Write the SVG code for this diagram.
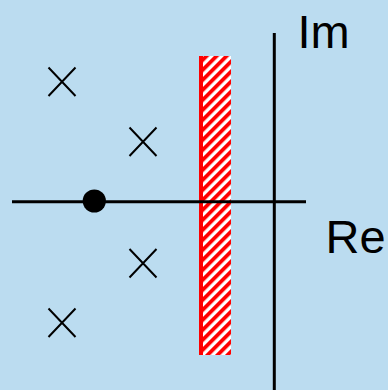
<svg xmlns="http://www.w3.org/2000/svg" width="388" height="390" viewBox="0 0 388 390">
  <defs>
    <pattern id="hatch" patternUnits="userSpaceOnUse" width="7.07" height="7.07" patternTransform="rotate(45)">
      <rect x="0" y="0" width="7.07" height="7.07" fill="#ffffff"/>
      <rect x="0" y="0" width="3.8" height="7.07" fill="#ff0000"/>
    </pattern>
    <style>
      .axis { stroke: #000; stroke-width: 3; fill: none; }
      .cross { stroke: #000; stroke-width: 2; fill: none; }
      .lbl { font-family: "Liberation Sans", Arial, sans-serif; font-size: 47px; fill: #000; }
    </style>
  </defs>
  <rect x="0" y="0" width="388" height="390" fill="#bbdcf0"/>
  <text class="lbl" x="139" y="-13">y</text>
  <g id="stability-region">
    <rect x="199" y="56" width="32" height="299" fill="url(#hatch)"/>
    <rect x="199" y="56" width="4" height="299" fill="#ff0000"/>
  </g>
  <g id="axes">
    <line class="axis" x1="12" y1="201.7" x2="306" y2="201.7"/>
    <line class="axis" x1="274.3" y1="33" x2="274.3" y2="390"/>
  </g>
  <g id="zero">
    <circle cx="94.3" cy="201" r="11.6" fill="#000"/>
  </g>
  <g id="pole1"><path class="cross" d="M48.5 67.5 L75.5 96 M75.5 67.5 L48.5 96"/></g>
  <g id="pole2"><path class="cross" d="M129.5 127.5 L156.5 156 M156.5 127.5 L129.5 156"/></g>
  <g id="pole3"><path class="cross" d="M129.5 249 L156.5 277.5 M156.5 249 L129.5 277.5"/></g>
  <g id="pole4"><path class="cross" d="M48.5 308.5 L75.5 337 M75.5 308.5 L48.5 337"/></g>
  <g id="label-im"><text class="lbl" x="297.5" y="48">Im</text></g>
  <g id="label-re"><text class="lbl" x="325.5" y="253">Re</text></g>
</svg>
